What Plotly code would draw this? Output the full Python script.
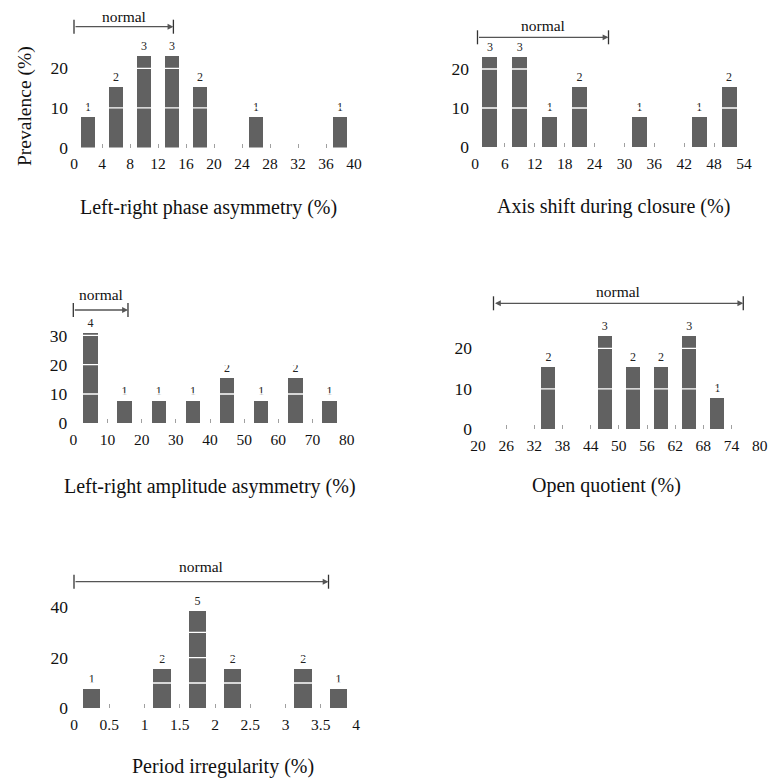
import plotly.graph_objects as go

W, H = 768, 781
FONT = "Liberation Serif"
BAR_COLOR = "#616161"


def fx(px):
    return px / W


def fy(py):
    return 1 - py / H


# ---------------- data ----------------
n_patients = 13

phase_bins = [2, 6, 10, 14, 18, 22, 26, 30, 34, 38]
phase_counts = [1, 2, 3, 3, 2, 0, 1, 0, 0, 1]
phase_ticks = [0, 4, 8, 12, 16, 20, 24, 28, 32, 36, 40]
phase_normal = [0, 14.2]

axis_bins = [3, 9, 15, 21, 27, 33, 39, 45, 51]
axis_counts = [3, 3, 1, 2, 0, 1, 0, 1, 2]
axis_ticks = [0, 6, 12, 18, 24, 30, 36, 42, 48, 54]
axis_normal = [0.5, 26.8]

amp_bins = [5, 15, 25, 35, 45, 55, 65, 75]
amp_counts = [4, 1, 1, 1, 2, 1, 2, 1]
amp_ticks = [0, 10, 20, 30, 40, 50, 60, 70, 80]
amp_normal = [0, 16]

oq_bins = [23, 29, 35, 41, 47, 53, 59, 65, 71, 77]
oq_counts = [0, 0, 2, 0, 3, 2, 2, 3, 1, 0]
oq_ticks = [20, 26, 32, 38, 44, 50, 56, 62, 68, 74, 80]
oq_normal = [23.3, 76.5]

pi_bins = [0.25, 0.75, 1.25, 1.75, 2.25, 2.75, 3.25, 3.75]
pi_counts = [1, 0, 2, 5, 2, 0, 2, 1]
pi_ticks = [0, 0.5, 1, 1.5, 2, 2.5, 3, 3.5, 4]
pi_ticktext = ["0", "0.5", "1", "1.5", "2", "2.5", "3", "3.5", "4"]
pi_normal = [0, 3.61]

titles = [
    "Left-right phase asymmetry (%)",
    "Axis shift during closure (%)",
    "Left-right amplitude asymmetry (%)",
    "Open quotient (%)",
    "Period irregularity (%)",
]
ylabel = "Prevalence (%)"

# ---------------- layout geometry (reference pixels) ----------------
panels = [
    dict(bins=phase_bins, counts=phase_counts, ticks=phase_ticks, ticktext=None,
         normal=phase_normal, both=False, yt=[0, 10, 20], grid=[10, 20],
         xpx=(74, 354), xr=(0, 40), base=147.5, unit=3.96, top=5,
         bw=2.0, arrow_px=26.7, text_px=16, title_px=(208, 207)),
    dict(bins=axis_bins, counts=axis_counts, ticks=axis_ticks, ticktext=None,
         normal=axis_normal, both=False, yt=[0, 10, 20], grid=[10, 20],
         xpx=(475, 744), xr=(0, 54), base=147, unit=3.9, top=5,
         bw=3.0, arrow_px=37.3, text_px=25, title_px=(613, 206)),
    dict(bins=amp_bins, counts=amp_counts, ticks=amp_ticks, ticktext=None,
         normal=amp_normal, both=False, yt=[0, 10, 20, 30], grid=[10, 20, 30],
         xpx=(73.3, 346.7), xr=(0, 80), base=423.3, unit=2.93, top=275,
         bw=4.2, arrow_px=310, text_px=294, title_px=(210, 486.7)),
    dict(bins=oq_bins, counts=oq_counts, ticks=oq_ticks, ticktext=None,
         normal=oq_normal, both=True, yt=[0, 10, 20], grid=[10, 20],
         xpx=(478, 759.7), xr=(20, 80), base=429.3, unit=4.05, top=275,
         bw=3.0, arrow_px=303.3, text_px=291.7, title_px=(606, 485)),
    dict(bins=pi_bins, counts=pi_counts, ticks=pi_ticks, ticktext=pi_ticktext,
         normal=pi_normal, both=False, yt=[0, 20, 40], grid=[10, 20, 30],
         xpx=(74, 356), xr=(0, 4), base=708.3, unit=2.53, top=550,
         bw=0.25, arrow_px=581.7, text_px=566, title_px=(223, 766.7)),
]

fig = go.Figure()
shapes = []
annotations = []
layout_axes = {}

for i, p in enumerate(panels, start=1):
    xa = f"x{i}" if i > 1 else "x"
    ya = f"y{i}" if i > 1 else "y"
    xkey = f"xaxis{i}" if i > 1 else "xaxis"
    ykey = f"yaxis{i}" if i > 1 else "yaxis"

    ymax = (p["base"] - p["top"]) / p["unit"]
    ya_arrow = (p["base"] - p["arrow_px"]) / p["unit"]
    ya_text = (p["base"] - p["text_px"]) / p["unit"]

    prev = [c / n_patients * 100 for c in p["counts"]]
    txt = [str(c) if c else "" for c in p["counts"]]

    fig.add_trace(go.Bar(
        x=p["bins"], y=prev, width=p["bw"],
        marker=dict(color=BAR_COLOR, line=dict(width=0)),
        text=txt, textposition="outside", constraintext="none",
        textfont=dict(family=FONT, size=12, color="#222"),
        cliponaxis=False, xaxis=xa, yaxis=ya, hoverinfo="skip",
    ))

    fig.add_trace(go.Scatter(
        x=p["normal"], y=[ya_arrow, ya_arrow], mode="markers",
        marker=dict(symbol="line-ns", size=10, line=dict(width=1.3, color="#333")),
        xaxis=xa, yaxis=ya, cliponaxis=False, hoverinfo="skip",
    ))

    layout_axes[xkey] = dict(
        domain=[fx(p["xpx"][0]), fx(p["xpx"][1])], range=list(p["xr"]),
        anchor=ya, tickmode="array", tickvals=p["ticks"],
        ticktext=p["ticktext"] if p["ticktext"] else [str(t) for t in p["ticks"]],
        ticks="inside", ticklen=4, tickwidth=1, tickcolor="#a0a0a0",
        showgrid=False, zeroline=False, showline=False, automargin=False,
        tickfont=dict(family=FONT, size=15.5, color="#111"),
        ticklabelstandoff=5, fixedrange=True,
    )
    layout_axes[ykey] = dict(
        domain=[fy(p["base"]), fy(p["top"])], range=[0, ymax],
        anchor=xa, tickmode="array", tickvals=p["yt"], ticks="",
        showgrid=False, zeroline=False, showline=False, automargin=False,
        tickfont=dict(family=FONT, size=17.5, color="#111"),
        ticklabelstandoff=5, fixedrange=True,
    )

    for g in p["grid"]:
        shapes.append(dict(type="line", xref=xa, yref=ya,
                           x0=p["xr"][0], x1=p["xr"][1], y0=g, y1=g,
                           line=dict(color="white", width=1.3), layer="above"))

    arrow = dict(xref=xa, yref=ya, axref=xa, ayref=ya,
                 x=p["normal"][1], y=ya_arrow, ax=p["normal"][0], ay=ya_arrow,
                 text="", showarrow=True, arrowhead=2, arrowsize=0.9,
                 arrowwidth=1.3, arrowcolor="#555", standoff=0, startstandoff=0)
    if p["both"]:
        arrow.update(arrowside="end+start", startarrowhead=2, startarrowsize=0.9)
    annotations.append(arrow)
    annotations.append(dict(xref=xa, yref=ya,
                            x=(p["normal"][0] + p["normal"][1]) / 2, y=ya_text,
                            text="normal", showarrow=False,
                            xanchor="center", yanchor="middle",
                            font=dict(family=FONT, size=15.5, color="#111")))

    annotations.append(dict(xref="paper", yref="paper",
                            x=fx(p["title_px"][0]), y=fy(p["title_px"][1]),
                            text=titles[i - 1], showarrow=False,
                            xanchor="center", yanchor="middle",
                            font=dict(family=FONT, size=20, color="#111")))

annotations.append(dict(xref="paper", yref="paper", x=fx(25), y=fy(106),
                        text=ylabel, textangle=-90, showarrow=False,
                        xanchor="center", yanchor="middle",
                        font=dict(family=FONT, size=19.5, color="#111")))

fig.update_layout(
    template="none",
    width=W, height=H, margin=dict(l=0, r=0, t=0, b=0, autoexpand=False),
    paper_bgcolor="white", plot_bgcolor="white",
    showlegend=False, shapes=shapes, annotations=annotations,
    bargap=0, **layout_axes,
)

# place the figure flush with the window corner (no page margin / scrollbars)
page_css = ("document.body.style.margin='0';"
            "document.body.style.overflow='hidden';"
            "document.documentElement.style.overflow='hidden';")

fig.write_html("out.html", post_script=page_css,
               config={"displayModeBar": False, "staticPlot": True})
